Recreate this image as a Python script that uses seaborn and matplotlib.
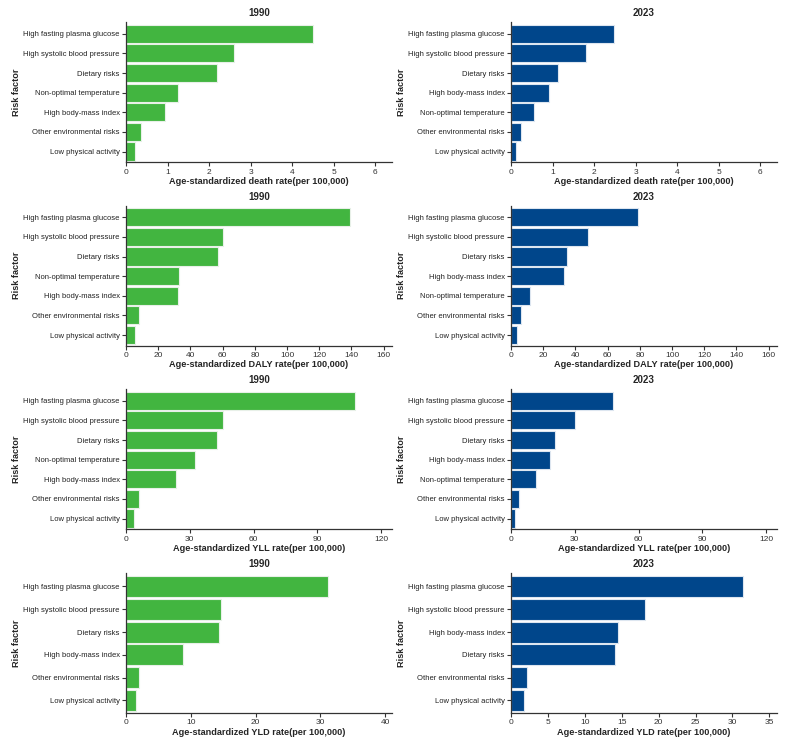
import pandas as pd
import numpy as np
import matplotlib
matplotlib.use("Agg")
import matplotlib.pyplot as plt
import seaborn as sns

# ---------------- data ----------------
death_1990_factors = ["High fasting plasma glucose", "High systolic blood pressure", "Dietary risks",
                      "Non-optimal temperature", "High body-mass index", "Other environmental risks",
                      "Low physical activity"]
death_1990_values = [4.51, 2.59, 2.18, 1.25, 0.95, 0.36, 0.22]

death_2023_factors = ["High fasting plasma glucose", "High systolic blood pressure", "Dietary risks",
                      "High body-mass index", "Non-optimal temperature", "Other environmental risks",
                      "Low physical activity"]
death_2023_values = [2.47, 1.81, 1.13, 0.91, 0.55, 0.25, 0.13]

daly_1990_factors = death_1990_factors
daly_1990_values = [139.3, 60.1, 57.4, 32.8, 32.1, 8.1, 5.6]

daly_2023_factors = death_2023_factors
daly_2023_values = [79.0, 48.0, 35.0, 32.8, 11.9, 6.0, 3.9]

yll_1990_factors = death_1990_factors
yll_1990_values = [107.8, 45.5, 43.0, 32.5, 23.4, 6.3, 3.9]

yll_2023_factors = death_2023_factors
yll_2023_values = [47.8, 30.2, 20.8, 18.3, 11.9, 3.9, 2.0]

yld_1990_factors = ["High fasting plasma glucose", "High systolic blood pressure", "Dietary risks",
                    "High body-mass index", "Other environmental risks", "Low physical activity"]
yld_1990_values = [31.2, 14.6, 14.4, 8.75, 1.95, 1.6]

yld_2023_factors = ["High fasting plasma glucose", "High systolic blood pressure", "High body-mass index",
                    "Dietary risks", "Other environmental risks", "Low physical activity"]
yld_2023_values = [31.4, 18.2, 14.5, 14.1, 2.17, 1.76]

years = ["1990", "2023"]
colors = ["#42B540", "#00468B"]

# ---------------- style ----------------
sns.set_theme(style="ticks")
plt.rcParams['font.family'] = ['Liberation Sans', 'DejaVu Sans']

fig = plt.figure(figsize=(7.96, 7.48), dpi=100)

panels = [
    # (factors, values, year index, row, xlabel, xmax, xticks)
    (death_1990_factors, death_1990_values, 0, 0, "Age-standardized death rate(per 100,000)", 6.4, np.arange(0, 7, 1)),
    (death_2023_factors, death_2023_values, 1, 0, "Age-standardized death rate(per 100,000)", 6.4, np.arange(0, 7, 1)),
    (daly_1990_factors, daly_1990_values, 0, 1, "Age-standardized DALY rate(per 100,000)", 165, np.arange(0, 161, 20)),
    (daly_2023_factors, daly_2023_values, 1, 1, "Age-standardized DALY rate(per 100,000)", 165, np.arange(0, 161, 20)),
    (yll_1990_factors, yll_1990_values, 0, 2, "Age-standardized YLL rate(per 100,000)", 125, np.arange(0, 121, 30)),
    (yll_2023_factors, yll_2023_values, 1, 2, "Age-standardized YLL rate(per 100,000)", 125, np.arange(0, 121, 30)),
    (yld_1990_factors, yld_1990_values, 0, 3, "Age-standardized YLD rate(per 100,000)", 41, np.arange(0, 41, 10)),
    (yld_2023_factors, yld_2023_values, 1, 3, "Age-standardized YLD rate(per 100,000)", 36, np.arange(0, 36, 5)),
]

W, H = 796, 748
row_tops = [22, 205.5, 389, 572.7]
panel_h = 140.3
col_lefts = [126, 511]
panel_w = 265.7

for factors, values, col, row, xlabel, xmax, xticks in panels:
    left = col_lefts[col] / W
    bottom = 1 - (row_tops[row] + panel_h) / H
    ax = fig.add_axes([left, bottom, panel_w / W, panel_h / H])

    df = pd.DataFrame({"Risk factor": factors, "Rate": values})

    sns.barplot(
        data=df,
        x="Rate",
        y="Risk factor",
        orient="h",
        color=colors[col],
        saturation=1,
        width=0.92,
        edgecolor="#e8f0e8" if col == 0 else "#dde6f0",
        linewidth=0.8,
        ax=ax
    )

    n = len(factors)
    ax.set_ylim(n - 0.45, -0.6)
    ax.set_xlim(0, xmax)
    ax.set_xticks(xticks)

    ax.set_title(years[col], fontsize=7, fontweight="bold", pad=4)
    ax.set_xlabel(xlabel, fontsize=6.6, fontweight="bold", labelpad=1)
    ax.set_ylabel("Risk factor", fontsize=6.6, fontweight="bold", labelpad=2)

    ax.tick_params(axis="both", length=3, width=0.8, pad=1.5, colors="#333333")
    ax.tick_params(axis="y", labelsize=5.5, labelcolor="#222222")
    ax.tick_params(axis="x", labelsize=6)

    for s in ["left", "bottom"]:
        ax.spines[s].set_linewidth(0.9)
        ax.spines[s].set_color("#333333")
    sns.despine(ax=ax)

plt.savefig("out.png", dpi=100)
